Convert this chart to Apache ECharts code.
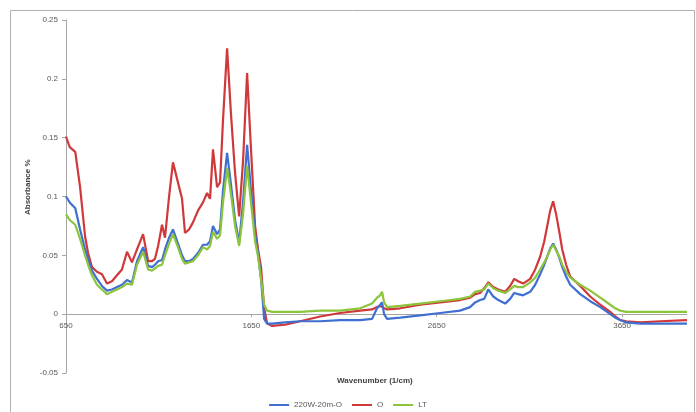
<!DOCTYPE html>
<html>
<head>
<meta charset="utf-8">
<script src="https://cdn.jsdelivr.net/npm/echarts@6/dist/echarts.min.js"></script>
<style>html,body{margin:0;padding:0;background:#fff}#c{width:696px;height:412px}</style>
</head>
<body>
<div id="c"></div>
<script>
const wavenumbers = [650,670,700,726,753,769,790,817,844,871,898,925,952,979,1006,1033,1066,1093,1114,1130,1147,1168,1184,1206,1227,1254,1276,1292,1314,1335,1362,1389,1411,1427,1443,1465,1481,1497,1519,1540,1562,1584,1605,1627,1648,1670,1686,1702,1719,1735,1762,1832,1913,2021,2129,2237,2301,2328,2345,2355,2366,2382,2453,2561,2669,2776,2830,2857,2884,2906,2928,2955,2982,3019,3046,3068,3089,3116,3154,3181,3208,3230,3246,3262,3278,3294,3311,3327,3348,3370,3424,3478,3532,3586,3613,3640,3672,3748,3856,4000];
const seriesNames = ['220W-20m-O','O','LT'];
const blueValues = [0.100,0.095,0.090,0.072,0.055,0.047,0.037,0.030,0.024,0.020,0.021,0.023,0.025,0.029,0.027,0.045,0.057,0.041,0.040,0.042,0.045,0.046,0.055,0.065,0.072,0.060,0.050,0.045,0.045,0.047,0.052,0.059,0.059,0.062,0.075,0.068,0.072,0.105,0.137,0.110,0.080,0.061,0.095,0.144,0.105,0.068,0.052,0.030,-0.004,-0.008,-0.008,-0.007,-0.006,-0.006,-0.005,-0.005,-0.004,0.005,0.008,0.010,0.000,-0.004,-0.003,-0.001,0.001,0.003,0.006,0.010,0.012,0.013,0.021,0.015,0.012,0.009,0.013,0.018,0.017,0.016,0.019,0.025,0.034,0.042,0.049,0.056,0.060,0.055,0.048,0.040,0.032,0.025,0.017,0.011,0.006,0.000,-0.003,-0.005,-0.007,-0.008,-0.008,-0.008];
const redValues = [0.151,0.142,0.138,0.108,0.066,0.052,0.040,0.036,0.034,0.026,0.028,0.033,0.038,0.053,0.044,0.055,0.068,0.045,0.045,0.047,0.058,0.076,0.065,0.100,0.129,0.112,0.098,0.069,0.072,0.078,0.088,0.095,0.103,0.098,0.140,0.108,0.112,0.165,0.226,0.170,0.120,0.083,0.130,0.205,0.140,0.075,0.055,0.040,0.005,-0.008,-0.010,-0.009,-0.006,-0.002,0.001,0.003,0.004,0.006,0.007,0.008,0.005,0.004,0.005,0.008,0.010,0.012,0.014,0.017,0.018,0.022,0.027,0.023,0.021,0.019,0.024,0.030,0.028,0.026,0.030,0.038,0.049,0.062,0.075,0.088,0.096,0.085,0.070,0.055,0.042,0.032,0.024,0.015,0.008,0.002,-0.002,-0.005,-0.006,-0.007,-0.006,-0.005];
const greenValues = [0.085,0.080,0.076,0.064,0.050,0.042,0.033,0.025,0.021,0.017,0.019,0.021,0.023,0.026,0.025,0.042,0.053,0.038,0.037,0.039,0.041,0.042,0.050,0.060,0.068,0.057,0.047,0.043,0.044,0.045,0.050,0.057,0.055,0.058,0.070,0.064,0.067,0.095,0.124,0.102,0.075,0.058,0.085,0.126,0.095,0.062,0.049,0.030,0.008,0.003,0.002,0.002,0.002,0.003,0.003,0.005,0.009,0.014,0.016,0.019,0.010,0.006,0.007,0.009,0.011,0.013,0.015,0.019,0.020,0.021,0.026,0.022,0.020,0.018,0.021,0.024,0.023,0.023,0.027,0.031,0.038,0.044,0.049,0.055,0.059,0.054,0.049,0.042,0.036,0.031,0.025,0.020,0.014,0.008,0.005,0.003,0.002,0.002,0.002,0.002];
const yTicks = [-0.05, 0, 0.05, 0.1, 0.15, 0.2, 0.25];

const pair = vals => wavenumbers.map((w, i) => [w, vals[i]]);
const chart = echarts.init(document.getElementById('c'));
const font = 'Liberation Sans, Arial, sans-serif';
chart.setOption({
  animation: false,
  backgroundColor: '#fff',
  grid: {left: 66, right: 9, top: 20, bottom: 39},
  xAxis: {
    type: 'value', min: 650, max: 4000, interval: 1000,
    axisLine: {onZero: true, lineStyle: {color: '#a6a6a6', width: 1}},
    axisTick: {show: true, inside: false, length: 3, lineStyle: {color: '#a6a6a6'}},
    axisLabel: {showMaxLabel: false, color: '#595959', fontSize: 8, fontFamily: font, margin: -51,
      formatter: v => String(v)},
    splitLine: {show: false}
  },
  yAxis: {
    type: 'value', min: yTicks[0], max: yTicks[yTicks.length - 1], interval: 0.05,
    axisLine: {show: true, lineStyle: {color: '#a6a6a6', width: 1}},
    axisTick: {show: true, length: 4, lineStyle: {color: '#a6a6a6'}},
    axisLabel: {color: '#595959', fontSize: 8, fontFamily: font, margin: 8,
      formatter: v => String(Math.round(v * 100) / 100)},
    splitLine: {show: false}
  },
  legend: {
    bottom: -2, left: 'center', icon: 'rect', itemWidth: 20, itemHeight: 2, itemGap: 10,
    textStyle: {color: '#595959', fontSize: 8, fontFamily: font},
    data: seriesNames
  },
  graphic: [
    {type: 'rect', shape: {x: 10.5, y: 10.5, width: 684, height: 410}, style: {fill: 'none', stroke: '#b0b0b0', lineWidth: 1}, silent: true},
    {type: 'text', left: 337, top: 377, style: {text: 'Wavenumber (1/cm)', font: 'bold 8px ' + font, fill: '#404040'}},
    {type: 'text', rotation: Math.PI / 2, x: 28, y: 215, style: {text: 'Absorbance %', font: 'bold 8px ' + font, fill: '#404040', align: 'left', verticalAlign: 'middle'}}
  ],
  series: [
    {name: seriesNames[0], type: 'line', data: pair(blueValues), showSymbol: false, symbol: 'none', lineStyle: {color: '#3f6fd0', width: 2.2}, itemStyle: {color: '#3f6fd0'}, z: 3},
    {name: seriesNames[1], type: 'line', data: pair(redValues), showSymbol: false, symbol: 'none', lineStyle: {color: '#d0383a', width: 2.2}, itemStyle: {color: '#d0383a'}, z: 2},
    {name: seriesNames[2], type: 'line', data: pair(greenValues), showSymbol: false, symbol: 'none', lineStyle: {color: '#8cc43c', width: 2.2}, itemStyle: {color: '#8cc43c'}, z: 4}
  ]
});
</script>
</body>
</html>
